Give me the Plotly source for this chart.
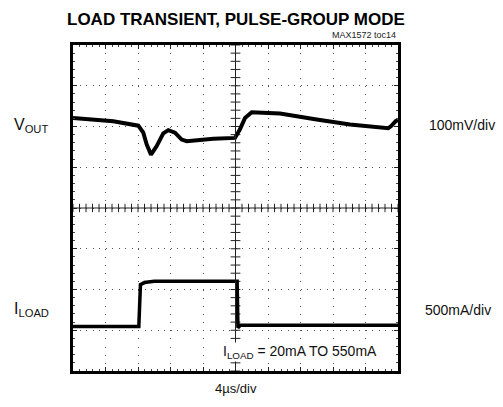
import plotly.graph_objects as go
import numpy as np

# ---- data (x in microseconds, 4 us/div; y in screen divisions, 0..8) ----
vout_t = [0.0, 0.86, 4.96, 8.04, 8.65, 9.07, 9.6, 10.3, 11.11, 11.73, 12.55, 13.38,
          13.99, 17.27, 19.94, 20.55, 21.17, 21.99, 25.48, 29.99, 34.09, 38.81, 39.16, 39.72, 40.0]
vout_div = [6.21, 6.20, 6.13, 6.02, 5.85, 5.56, 5.31, 5.52, 5.83, 5.91, 5.85, 5.68,
            5.64, 5.70, 5.72, 5.93, 6.21, 6.35, 6.32, 6.17, 6.05, 5.96, 6.01, 6.13, 6.16]

iload_t = [0.0, 8.1, 8.3, 8.8, 10.0, 20.2, 20.3, 20.6, 40.0]
iload_div = [1.09, 1.09, 2.12, 2.17, 2.20, 2.20, 1.06, 1.12, 1.12]

title = "LOAD TRANSIENT, PULSE-GROUP MODE"
code = "MAX1572 toc14"
vout_label = "V<sub>OUT</sub>"
iload_label = "I<sub>LOAD</sub>"
vscale = "100mV/div"
iscale = "500mA/div"
tscale = "4µs/div"
cond = "I<sub>LOAD</sub> = 20mA TO 550mA"

FONT = "Liberation Sans, Arial, sans-serif"

fig = go.Figure()

# center-line tick marks (generated from the division grid)
xt = np.arange(0, 40.0001, 0.8)
yt = np.arange(0, 8.0001, 0.2)
fig.add_trace(go.Scatter(x=xt, y=[4] * len(xt), mode="markers",
                         marker=dict(symbol="line-ns", size=6, line=dict(width=1, color="#222")),
                         hoverinfo="skip", showlegend=False))
fig.add_trace(go.Scatter(x=[20] * len(yt), y=yt, mode="markers",
                         marker=dict(symbol="line-ew", size=7, line=dict(width=1, color="#222")),
                         hoverinfo="skip", showlegend=False))

fig.add_trace(go.Scatter(x=vout_t, y=vout_div, mode="lines",
                         line=dict(color="black", width=4), showlegend=False))
fig.add_trace(go.Scatter(x=iload_t, y=iload_div, mode="lines",
                         line=dict(color="black", width=3.5), showlegend=False))

# center lines
fig.add_shape(type="line", x0=0, x1=40, y0=4, y1=4, line=dict(color="#222", width=1))
fig.add_shape(type="line", x0=20, x1=20, y0=0, y1=8, line=dict(color="#222", width=1))

fig.update_xaxes(range=[0, 40], dtick=4, tick0=0, showgrid=True, gridcolor="#555",
                 gridwidth=1, griddash="1px,7.15px", zeroline=False,
                 showline=True, linewidth=3, linecolor="black", mirror="ticks",
                 ticks="inside", ticklen=4, tickcolor="#222", tickwidth=1,
                 minor=dict(dtick=0.8, ticks="inside", ticklen=2, tickcolor="#444", showgrid=False),
                 showticklabels=False, fixedrange=True)
fig.update_yaxes(range=[0, 8], dtick=1, tick0=0, showgrid=True, gridcolor="#555",
                 gridwidth=1, griddash="1px,5.5px", zeroline=False,
                 showline=True, linewidth=3, linecolor="black", mirror="ticks",
                 ticks="inside", ticklen=4, tickcolor="#222", tickwidth=1,
                 minor=dict(dtick=0.2, ticks="inside", ticklen=2, tickcolor="#444", showgrid=False),
                 showticklabels=False, fixedrange=True)

L, R, T, B = 73, 105, 45, 36
W, H = 503, 407
pw, ph = W - L - R, H - T - B


def px(x):
    return (x - L) / pw


def py(y):
    return (H - B - y) / ph


ann = [
    dict(text="<b>" + title + "</b>", x=px(236), y=py(19.5), xanchor="center", yanchor="middle",
         font=dict(size=17, family=FONT, color="black")),
    dict(text=code, x=px(398), y=py(35), xanchor="right", yanchor="middle",
         font=dict(size=9, family=FONT, color="#222")),
    dict(text=vout_label, x=px(12), y=py(125), xanchor="left", yanchor="middle",
         font=dict(size=16, family=FONT, color="#111")),
    dict(text=vscale, x=px(427), y=py(125), xanchor="left", yanchor="middle",
         font=dict(size=14, family=FONT, color="#111")),
    dict(text=iload_label, x=px(12), y=py(309), xanchor="left", yanchor="middle",
         font=dict(size=16, family=FONT, color="#111")),
    dict(text=iscale, x=px(423), y=py(310), xanchor="left", yanchor="middle",
         font=dict(size=14, family=FONT, color="#111")),
    dict(text=cond, x=px(222), y=py(352), xanchor="left", yanchor="middle",
         font=dict(size=14, family=FONT, color="#111"), bgcolor="white", borderpad=0),
    dict(text=tscale, x=px(236), y=py(388), xanchor="center", yanchor="middle",
         font=dict(size=13, family=FONT, color="#111")),
]
for a in ann:
    a.update(xref="paper", yref="paper", showarrow=False)

fig.update_layout(width=W, height=H, margin=dict(l=L, r=R, t=T, b=B),
                  paper_bgcolor="white", plot_bgcolor="white",
                  annotations=ann, showlegend=False)

fig.write_html("out.html", config={"displayModeBar": False, "staticPlot": True},
               post_script="document.body.style.margin='0';document.body.style.overflow='hidden';")
